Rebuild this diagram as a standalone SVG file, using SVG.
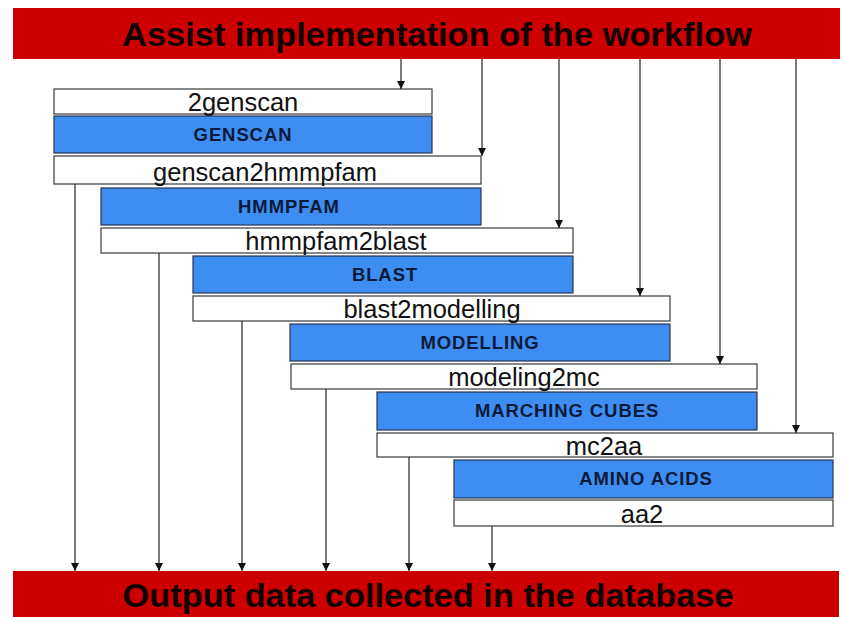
<svg xmlns="http://www.w3.org/2000/svg" width="846" height="617" viewBox="0 0 846 617">
<style>
.bar{fill:#cc0000}
.title{font-family:"Liberation Sans",Arial,sans-serif;font-weight:bold;font-size:33px;fill:#110000;text-anchor:middle}
.w{fill:#ffffff;stroke:#3a3a3a;stroke-width:1.2}
.b{fill:#3d8df2;stroke:#2a3550;stroke-width:1.2}
.wt{font-family:"Liberation Sans",Arial,sans-serif;font-size:25.5px;fill:#111;text-anchor:middle}
.bt{font-family:"Liberation Sans",Arial,sans-serif;font-weight:bold;font-size:18.5px;letter-spacing:0.9px;fill:#0c1a3a;text-anchor:middle}
.c{stroke:#222;stroke-width:1.2;fill:none;marker-end:url(#ah)}
</style>
<defs>
<marker id="ah" viewBox="0 0 8 10" refX="8" refY="5" markerWidth="8" markerHeight="10" markerUnits="userSpaceOnUse" orient="auto">
<path d="M0,1 L8,5 L0,9 Z" fill="#111"/>
</marker>
</defs>
<rect width="846" height="617" fill="#ffffff"/>
<g id="top-bar">
<rect class="bar" x="13" y="8" width="827" height="51"/>
<text class="title" x="437" y="46" textLength="630" lengthAdjust="spacingAndGlyphs">Assist implementation of the workflow</text>
</g>
<g id="bottom-bar">
<rect class="bar" x="13" y="571" width="826" height="46"/>
<text class="title" x="428" y="607" textLength="611" lengthAdjust="spacingAndGlyphs">Output data collected in the database</text>
</g>
<g id="n-2genscan"><rect class="w" x="54" y="89" width="378" height="25"/><text class="wt" x="243" y="111">2genscan</text></g>
<g id="n-genscan"><rect class="b" x="54" y="116" width="378" height="37"/><text class="bt" x="243" y="141">GENSCAN</text></g>
<g id="n-genscan2hmmpfam"><rect class="w" x="54" y="156" width="427" height="28"/><text class="wt" x="265" y="181">genscan2hmmpfam</text></g>
<g id="n-hmmpfam"><rect class="b" x="101" y="188" width="380" height="37"/><text class="bt" x="289" y="213">HMMPFAM</text></g>
<g id="n-hmmpfam2blast"><rect class="w" x="101" y="228" width="472" height="25"/><text class="wt" x="336" y="250">hmmpfam2blast</text></g>
<g id="n-blast"><rect class="b" x="193" y="256" width="380" height="37"/><text class="bt" x="385" y="281">BLAST</text></g>
<g id="n-blast2modelling"><rect class="w" x="193" y="296" width="477" height="25"/><text class="wt" x="432" y="318">blast2modelling</text></g>
<g id="n-modelling"><rect class="b" x="290" y="324" width="380" height="37"/><text class="bt" x="480" y="349">MODELLING</text></g>
<g id="n-modeling2mc"><rect class="w" x="291" y="364" width="466" height="25"/><text class="wt" x="524" y="386">modeling2mc</text></g>
<g id="n-marching-cubes"><rect class="b" x="377" y="392" width="380" height="38"/><text class="bt" x="567" y="417">MARCHING CUBES</text></g>
<g id="n-mc2aa"><rect class="w" x="377" y="433" width="456" height="24"/><text class="wt" x="604" y="455">mc2aa</text></g>
<g id="n-amino-acids"><rect class="b" x="454" y="460" width="379" height="38"/><text class="bt" x="646" y="485">AMINO ACIDS</text></g>
<g id="n-aa2"><rect class="w" x="454" y="500" width="379" height="26"/><text class="wt" x="642" y="523">aa2</text></g>
<g id="connectors">
<path class="c" d="M401,59 V89"/>
<path class="c" d="M482,59 V156"/>
<path class="c" d="M559,59 V228"/>
<path class="c" d="M640,59 V296"/>
<path class="c" d="M720,59 V364"/>
<path class="c" d="M796,59 V433"/>
<path class="c" d="M75,184 V571"/>
<path class="c" d="M159,253 V571"/>
<path class="c" d="M242,321 V571"/>
<path class="c" d="M326,389 V571"/>
<path class="c" d="M409,457 V571"/>
<path class="c" d="M492,526 V571"/>
</g>
</svg>
